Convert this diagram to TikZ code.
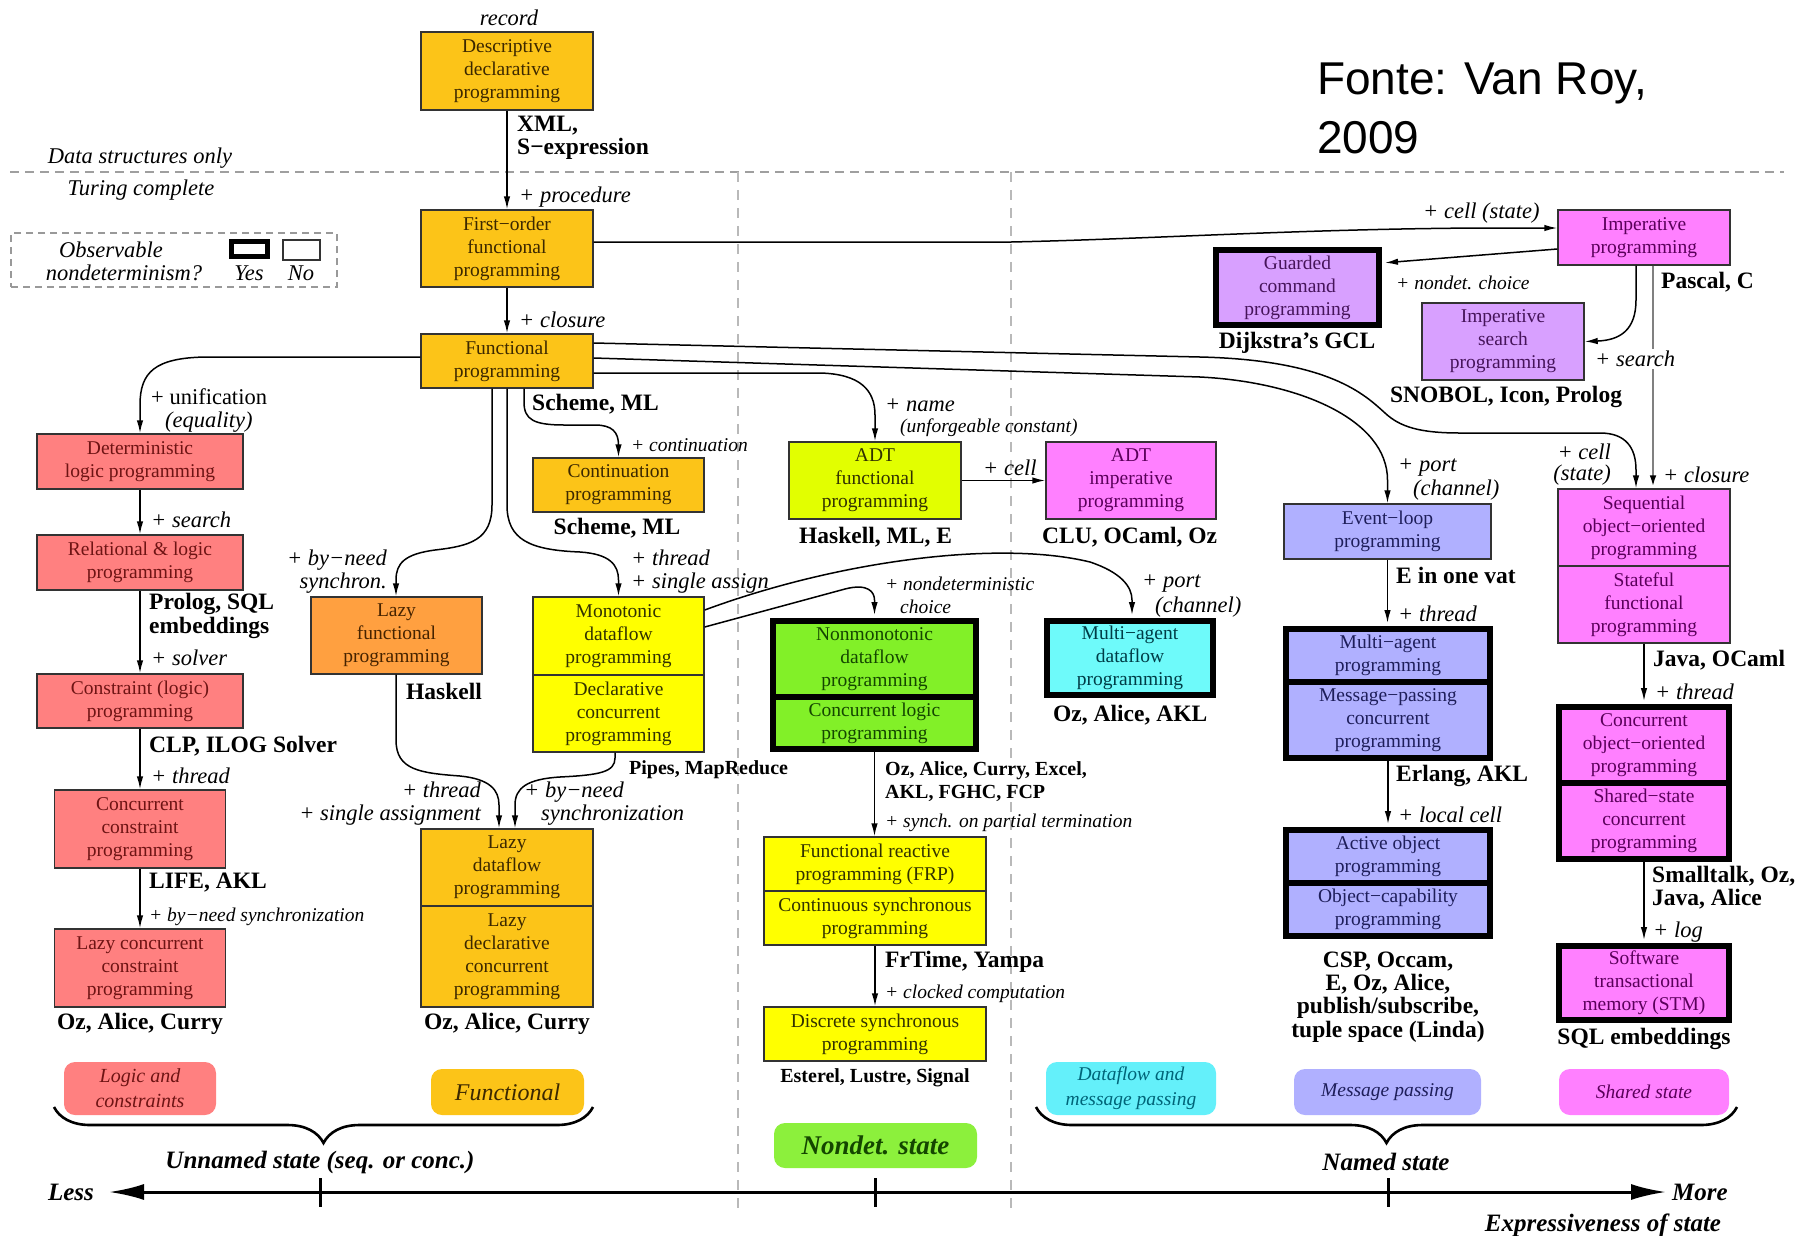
\documentclass[tikz,border=0pt]{standalone}
\usepackage{fontspec}
\setmainfont{Liberation Serif}
\newfontfamily\notefont{Liberation Sans}
\usetikzlibrary{arrows.meta,decorations.pathreplacing}

\definecolor{cLog}{RGB}{255,128,128}  \definecolor{tLog}{RGB}{110,20,20}
\definecolor{cFun}{RGB}{252,196,24}   \definecolor{tFun}{RGB}{60,40,0}
\definecolor{cLazy}{RGB}{255,160,64}  \definecolor{tLazy}{RGB}{70,35,0}
\definecolor{cYel}{RGB}{255,255,0}    \definecolor{tYel}{RGB}{50,50,0}
\definecolor{cAdt}{RGB}{226,255,0}
\definecolor{cNon}{RGB}{130,240,40}   \definecolor{tNon}{RGB}{20,70,0}
\definecolor{cCyan}{RGB}{110,250,250} \definecolor{tCyan}{RGB}{0,60,70}
\definecolor{cMsg}{RGB}{176,176,255}  \definecolor{tMsg}{RGB}{30,30,90}
\definecolor{cSh}{RGB}{255,128,255}   \definecolor{tSh}{RGB}{90,0,90}
\definecolor{cPur}{RGB}{216,160,255}  \definecolor{tPur}{RGB}{70,20,90}
\definecolor{cNonCat}{RGB}{140,240,60}
\definecolor{cDfCat}{RGB}{100,240,250} \definecolor{tDfCat}{RGB}{0,100,120}

\tikzset{
  sz/.style 2 args={minimum width=#1pt, minimum height=#2pt},
  box/.style={draw=black!80, line width=1.4pt, inner sep=0pt, align=center,
              font=\fontsize{19.5}{23}\selectfont},
  heavy/.style={box, draw=black, line width=6pt},
  arr/.style={line width=1.5pt, -{Latex[length=13pt,width=6.5pt]}},
  grayarr/.style={draw=black!50, line width=2.6pt, -{Latex[length=13pt,width=6.5pt,color=black]}},
  lab/.style={inner sep=0pt, align=left, font=\fontsize{22.5}{23}\selectfont\itshape},
  ulab/.style={inner sep=0pt, font=\fontsize{22.5}{23}\selectfont},
  slab/.style={inner sep=0pt, font=\fontsize{19.5}{23}\selectfont\itshape},
  lang/.style={inner sep=0pt, align=center, font=\fontsize{23.5}{23.3}\selectfont\bfseries},
  slang/.style={inner sep=0pt, align=left, font=\fontsize{20}{23}\selectfont\bfseries},
  axl/.style={inner sep=0pt, font=\fontsize{25}{28}\selectfont\bfseries\itshape},
  cat/.style={rounded corners=11pt, inner sep=0pt, align=center,
              font=\fontsize{20}{25}\selectfont\itshape},
  src/.style={inner sep=0pt, font=\notefont\fontsize{46}{57}\selectfont},
  bracepath/.style={decorate, decoration={brace, amplitude=36pt}, line width=2.6pt},
  guide/.style={line width=1.3pt, dash pattern=on 9pt off 6pt},
}

\begin{document}
\begin{tikzpicture}[x=1pt,y=-1pt]
\useasboundingbox (0,0) rectangle (1802,1235);
\fill[white] (0,0) rectangle (1802,1235);

% ---- guide lines ----
\draw[guide, gray!75] (10,172) -- (1784,172);
\draw[guide, gray!55, dash pattern=on 10pt off 8pt] (738,172) -- (738,1210);
\draw[guide, gray!55, dash pattern=on 10pt off 8pt] (1011,172) -- (1011,1210);

% ---- legend ----
\node[draw=gray!80, line width=1.2pt, dash pattern=on 7pt off 5pt, sz={326}{54}] (legend) at (174,260) {};
\node[draw=black, line width=5pt, inner sep=0pt, sz={36}{15}] (yesbox) at (249.5,249) {};
\node[draw=black!80, line width=1.2pt, inner sep=0pt, sz={37}{20}] (nobox) at (301.5,250) {};
\node[lab] (lobs) at (111,250) {Observable};
\node[lab] (lnondet) at (124,273) {nondeterminism?};
\node[lab] (lyes) at (249,273) {Yes};
\node[lab] (lno) at (301,273) {No};

% ---- functional column ----
\node[box, fill=cFun, text=tFun, sz={172}{78}] (desc) at (507,71) {Descriptive\\declarative\\programming};
\node[box, fill=cFun, text=tFun, sz={172}{77}] (fo) at (507,248.5) {First−order\\functional\\programming};
\node[box, fill=cFun, text=tFun, sz={172}{54}] (func) at (507,361) {Functional\\programming};
\node[box, fill=cFun, text=tFun, sz={171}{54}] (cont) at (618.5,485) {Continuation\\programming};
\node[box, fill=cYel, text=tYel, sz={171}{78}] (mono) at (618.5,636) {Monotonic\\dataflow\\programming};
\node[box, fill=cYel, text=tYel, sz={171}{77}] (decl) at (618.5,713.5) {Declarative\\concurrent\\programming};
\node[box, fill=cLazy, text=tLazy, sz={171}{77}] (lazyf) at (396.5,635.5) {Lazy\\functional\\programming};
\node[box, fill=cFun, text=tFun, sz={172}{77}] (lazydf) at (507,867.5) {Lazy\\dataflow\\programming};
\node[box, fill=cFun, text=tFun, sz={172}{101}] (lazydecl) at (507,956.5) {Lazy\\declarative\\concurrent\\programming};

% ---- logic column ----
\node[box, fill=cLog, text=tLog, sz={206}{55}] (det) at (140,461.5) {Deterministic\\logic programming};
\node[box, fill=cLog, text=tLog, sz={206}{55}] (rel) at (140,562.5) {Relational \& logic\\programming};
\node[box, fill=cLog, text=tLog, sz={206}{54}] (cons) at (140,701) {Constraint (logic)\\programming};
\node[box, fill=cLog, text=tLog, sz={171}{78}] (ccons) at (140,829) {Concurrent\\constraint\\programming};
\node[box, fill=cLog, text=tLog, sz={171}{78}] (lccons) at (140,968) {Lazy concurrent\\constraint\\programming};

% ---- middle columns ----
\node[box, fill=cAdt, text=tYel, sz={172}{77}] (adtf) at (875,480.5) {ADT\\functional\\programming};
\node[box, fill=cSh, text=tSh, sz={170}{77}] (adti) at (1131,480.5) {ADT\\imperative\\programming};
\node[heavy, fill=cNon, text=tNon, sz={203}{76}] (nonmono) at (874.5,659) {Nonmonotonic\\dataflow\\programming};
\node[heavy, fill=cNon, text=tNon, sz={203}{52}] (conclog) at (874.5,723) {Concurrent logic\\programming};
\node[heavy, fill=cCyan, text=tCyan, sz={166}{74}] (madf) at (1130,658) {Multi−agent\\dataflow\\programming};
\node[box, fill=cYel, text=tYel, sz={222}{54}] (frp) at (875,864) {Functional reactive\\programming (FRP)};
\node[box, fill=cYel, text=tYel, sz={222}{54}] (contsync) at (875,918) {Continuous synchronous\\programming};
\node[box, fill=cYel, text=tYel, sz={222}{54}] (disc) at (875,1034) {Discrete synchronous\\programming};

% ---- stateful columns ----
\node[box, fill=cSh, text=tSh, sz={172}{55}] (imp) at (1644,237.5) {Imperative\\programming};
\node[heavy, fill=cPur, text=tPur, sz={163}{75}] (gcl) at (1297.5,287.5) {Guarded\\command\\programming};
\node[box, fill=cPur, text=tPur, sz={162}{77}] (isearch) at (1503,341.5) {Imperative\\search\\programming};
\node[box, fill=cMsg, text=tMsg, sz={207}{55}] (evl) at (1387.5,531.5) {Event−loop\\programming};
\node[heavy, fill=cMsg, text=tMsg, sz={204}{53}] (magent) at (1388,655.5) {Multi−agent\\programming};
\node[heavy, fill=cMsg, text=tMsg, sz={204}{76}] (msgpass) at (1388,720) {Message−passing\\concurrent\\programming};
\node[heavy, fill=cMsg, text=tMsg, sz={204}{53}] (actobj) at (1388,856.5) {Active object\\programming};
\node[heavy, fill=cMsg, text=tMsg, sz={204}{53}] (objcap) at (1388,909.5) {Object−capability\\programming};
\node[box, fill=cSh, text=tSh, sz={172}{77}] (seqoo) at (1644,527.5) {Sequential\\object−oriented\\programming};
\node[box, fill=cSh, text=tSh, sz={172}{77}] (stateful) at (1644,604.5) {Stateful\\functional\\programming};
\node[heavy, fill=cSh, text=tSh, sz={170}{76}] (concoo) at (1644,745) {Concurrent\\object−oriented\\programming};
\node[heavy, fill=cSh, text=tSh, sz={170}{76}] (sharedst) at (1644,821) {Shared−state\\concurrent\\programming};
\node[heavy, fill=cSh, text=tSh, sz={170}{74}] (stm) at (1644,983) {Software\\transactional\\memory (STM)};

% ---- connectors ----
\draw[arr] (desc) -- (fo);
\draw[arr] (fo) -- (func);
\draw[arr] ([yshift=6.5pt]fo.east) -- (1011,242) .. controls (1150,239) and (1300,229) .. (1480,228) -- ([yshift=9.5pt]imp.west);
\draw[arr] ([yshift=4pt]func.west) -- (205,357) .. controls (155,358) and (140,372) .. (140,405) -- (det.north);
\draw[arr] ([xshift=-15pt]func.south) -- (492,505) .. controls (492,540) and (470,546) .. (435,550) .. controls (405,554) and (396,563) .. (396,580) -- ([xshift=-0.5pt]lazyf.north);
\draw[arr] (func.south) -- (507,505) .. controls (507,540) and (530,550) .. (580,552) .. controls (610,554) and (618.5,565) .. (618.5,580) -- (mono.north);
\draw[arr] ([xshift=17pt]func.south) -- (524,402) .. controls (524,420) and (534,425) .. (565,425) -- (595,425) .. controls (612,425) and (618.5,432) .. (618.5,445) -- (cont.north);
\draw[arr] ([yshift=-12pt]func.east) -- (820,373) .. controls (860,374) and (875,390) .. (875,415) -- (adtf.north);
\draw[arr] ([yshift=3pt]func.east) -- (1200,377) .. controls (1300,382) and (1387.5,420) .. (1387.5,480) -- (evl.north);
\draw[arr] ([yshift=18pt]func.east) -- (1200,357) .. controls (1330,360) and (1365,395) .. (1385,413) .. controls (1400,427) and (1420,433) .. (1460,433) -- (1600,433) .. controls (1626,433) and (1636,448) .. (1636,470) -- ([xshift=-8pt]seqoo.north);
\draw[arr] (det) -- (rel);
\draw[arr] (rel) -- (cons);
\draw[arr] (cons.south) -- (cons.south |- ccons.north);
\draw[arr] (ccons) -- (lccons);
\draw[arr] ([xshift=-0.5pt]lazyf.south) -- (396,740) .. controls (396,770) and (420,773) .. (460,776) .. controls (490,779) and (499,790) .. (499,805) -- ([xshift=-8pt]lazydf.north);
\draw[arr] ([xshift=-3.5pt]decl.south) -- (615,758) .. controls (615,772) and (600,775) .. (560,777) .. controls (527,779) and (515,788) .. (515,805) -- ([xshift=8pt]lazydf.north);
\draw[arr] (adtf) -- (adti);
\draw[arr, shorten >=3pt] ([yshift=9pt]mono.east) -- (845,589) .. controls (868,583) and (874.5,592) .. (874.5,600) -- (nonmono.north);
\draw[arr, shorten >=3pt] ([yshift=26pt]mono.east) .. controls (840,560) and (1000,540) .. (1090,562) .. controls (1120,572) and (1132,586) .. (1132,600) -- ([xshift=2pt]madf.north);
\draw[arr] (conclog.south) -- (conclog.south |- frp.north);
\draw[arr] (contsync.south) -- (contsync.south |- disc.north);
\draw[arr, shorten >=3pt] ([yshift=-11.5pt]imp.west) -- ([yshift=24.5pt]gcl.east);
\draw[arr] ([xshift=-8pt]imp.south) -- (1636,300) .. controls (1636,330) and (1620,340) .. (1598,341) -- (isearch.east);
\draw[grayarr] ([xshift=9pt]imp.south) -- ([xshift=9pt]seqoo.north);
\draw[arr, shorten >=3pt] (evl.south) -- (evl.south |- magent.north);
\draw[arr, shorten >=3pt] (msgpass.south) -- (msgpass.south |- actobj.north);
\draw[arr, shorten >=3pt] (stateful.south) -- (stateful.south |- concoo.north);
\draw[arr, shorten >=3pt] (sharedst.south) -- (sharedst.south |- stm.north);

% ---- labels ----
\node[lab] (lrecord) at (509,18) {record};
\node[lang, align=left, anchor=west] (lxml) at (517,138) {XML,\\S−expression};
\node[lab] (ldata) at (140,158) {Data structures only};
\node[lab] (lturing) at (141,190) {Turing complete};
\node[lab, anchor=west] (lproc) at (519,197) {+ procedure};
\node[lab, anchor=west] (lclos) at (519,320) {+ closure};
\node[ulab, anchor=west] (lunif) at (151,397) {+ unification};
\node[lab, anchor=west] (lequal) at (165,422) {(equality)};
\node[lab, anchor=west] (lsearch1) at (151,520) {+ search};
\node[lang, align=left, anchor=west] (lprolog) at (149,616) {Prolog, SQL\\embeddings};
\node[lab, anchor=west] (lsolver) at (151,658) {+ solver};
\node[lang, anchor=west] (lclp) at (149,746) {CLP, ILOG Solver};
\node[lab, anchor=west] (lthr1) at (151,776) {+ thread};
\node[lang, anchor=west] (llife) at (149,883) {LIFE, AKL};
\node[slab, anchor=west] (lbyneed1) at (149,917) {+ by−need synchronization};
\node[lang] (loz1) at (140,1024) {Oz, Alice, Curry};
\node[lab, align=right, anchor=east] (lbyneed2) at (387,571.5) {+ by−need\\synchron.};
\node[lang, anchor=west] (lhask) at (406,691) {Haskell};
\node[lang, anchor=west] (lscheme1) at (532,404) {Scheme, ML};
\node[slab, anchor=west] (lcontin) at (631,445) {+ continuation};
\node[lang] (lscheme2) at (617,528) {Scheme, ML};
\node[lab, anchor=west] (lthr2) at (631,571.5) {+ thread\\+ single assign};
\node[lab, align=right, anchor=east] (lthr3) at (481,803.5) {+ thread\\+ single assignment};
\node[lab, anchor=west] (lbyneed3) at (524,792) {+ by−need};
\node[lab, anchor=west] (lsync3) at (541,815) {synchronization};
\node[slang, anchor=west] (lpipes) at (629,770) {Pipes, MapReduce};
\node[lang] (loz2) at (507,1024) {Oz, Alice, Curry};
\node[lab, anchor=west] (lname) at (885,405) {+ name};
\node[slab, anchor=west] (lunforg) at (900,428) {(unforgeable constant)};
\node[lab, anchor=west] (lcell1) at (983,468) {+ cell};
\node[lang, anchor=west] (lhaskml) at (799,537) {Haskell, ML, E};
\node[lang, anchor=west] (lclu) at (1042,537) {CLU, OCaml, Oz};
\node[slab, anchor=west] (lnondch) at (885,584) {+ nondeterministic};
\node[slab, anchor=west] (lchoice) at (900,607) {choice};
\node[lab, anchor=west] (lport1) at (1142,584) {+ port};
\node[lab, anchor=west] (lchan1) at (1155,607) {(channel)};
\node[lang, anchor=west] (lozaakl) at (1053,715) {Oz, Alice, AKL};
\node[slang, anchor=west] (lozexcel) at (885,781.5) {Oz, Alice, Curry, Excel,\\AKL, FGHC, FCP};
\node[slab, anchor=west] (lsynch) at (885,823) {+ synch. on partial termination};
\node[lang, anchor=west] (lfrtime) at (885,962) {FrTime, Yampa};
\node[slab, anchor=west] (lclocked) at (885,994) {+ clocked computation};
\node[slang] (lesterel) at (875,1078) {Esterel, Lustre, Signal};

\node[src, anchor=base west] (lsrc1) at (1317,94.5) {Fonte: Van Roy,};
\node[src, anchor=base west] (lsrc2) at (1317,153.5) {2009};

\node[lab, anchor=west] (lcellst) at (1423,213) {+ cell (state)};
\node[slab, anchor=west] (lndc) at (1396,283) {+ nondet. choice};
\node[lang, anchor=west] (lpascal) at (1661,282) {Pascal, C};
\node[lang] (ldijk) at (1297,343) {Dijkstra’s GCL};
\node[lab, anchor=west, fill=white, inner sep=2pt] (lsearch2) at (1593,359) {+ search};
\node[lang] (lsnobol) at (1506,397) {SNOBOL, Icon, Prolog};
\node[lab, anchor=west] (lport2) at (1398,468) {+ port};
\node[lab, anchor=west] (lchan2) at (1413,490) {(channel)};
\node[lab, anchor=east] (lcell2) at (1611,452) {+ cell};
\node[lab, anchor=east] (lstate2) at (1611,475) {(state)};
\node[lab, anchor=west] (lclos2) at (1663,475) {+ closure};
\node[lang, anchor=west] (levat) at (1396,575) {E in one vat};
\node[lab, anchor=west] (lthr4) at (1398,614) {+ thread};
\node[lang, anchor=west] (lerl) at (1396,776) {Erlang, AKL};
\node[lab, anchor=west] (llocal) at (1398,815) {+ local cell};
\node[lang] (lcsp) at (1388,997) {CSP, Occam,\\E, Oz, Alice,\\publish/subscribe,\\tuple space (Linda)};
\node[lang, anchor=west] (ljava) at (1653,660) {Java, OCaml};
\node[lab, anchor=west] (lthr5) at (1655,692) {+ thread};
\node[lang, align=left, anchor=west] (lsmall) at (1652,888) {Smalltalk, Oz,\\Java, Alice};
\node[lab, anchor=west] (llog) at (1653,932) {+ log};
\node[lang] (lsql) at (1644,1039) {SQL embeddings};

% ---- paradigm families ----
\node[cat, fill=cLog, text=tLog, sz={152}{53}] (klog) at (140,1088.5) {Logic and\\constraints};
\node[cat, fill=cFun, text=tFun, sz={153}{46}, font=\fontsize{24}{25}\selectfont\itshape] (kfun) at (507.5,1092) {Functional};
\node[cat, fill=cNonCat, text=tNon, sz={203}{45}, font=\fontsize{27}{28}\selectfont\bfseries\itshape] (knon) at (875.5,1145.5) {Nondet. state};
\node[cat, fill=cDfCat, text=tDfCat, sz={170}{53}, font=\fontsize{19.5}{25}\selectfont\itshape] (kdf) at (1131,1088.5) {Dataflow and\\message passing};
\node[cat, fill=cMsg, text=tMsg, sz={187}{46}, font=\fontsize{19.5}{25}\selectfont\itshape] (kmsg) at (1387.5,1092) {Message passing};
\node[cat, fill=cSh, text=tSh, sz={170}{46}, font=\fontsize{19.5}{25}\selectfont\itshape] (ksh) at (1644,1092) {Shared state};

% ---- braces and state axis ----
\draw[bracepath] (593,1107) -- (54,1107);
\draw[bracepath] (1737,1107) -- (1036,1107);
\node[axl] (lunnamed) at (320,1162) {Unnamed state (seq. or conc.)};
\node[axl] (lnamed) at (1386,1162) {Named state};

\coordinate (axL) at (109,1192);
\coordinate (axR) at (1666,1192);
\draw[line width=3pt, {Latex[length=35pt,width=16pt]}-{Latex[length=35pt,width=16pt]}] (axL) -- (axR);
\draw[line width=3pt] (320,1178) -- (320,1207);
\draw[line width=3pt] (875,1178) -- (875,1207);
\draw[line width=3pt] (1388,1178) -- (1388,1207);
\node[axl] (lless) at (71,1192) {Less};
\node[axl] (lmore) at (1700,1192) {More};
\node[axl] (lexpr) at (1603,1225) {Expressiveness of state};
\end{tikzpicture}
\end{document}
